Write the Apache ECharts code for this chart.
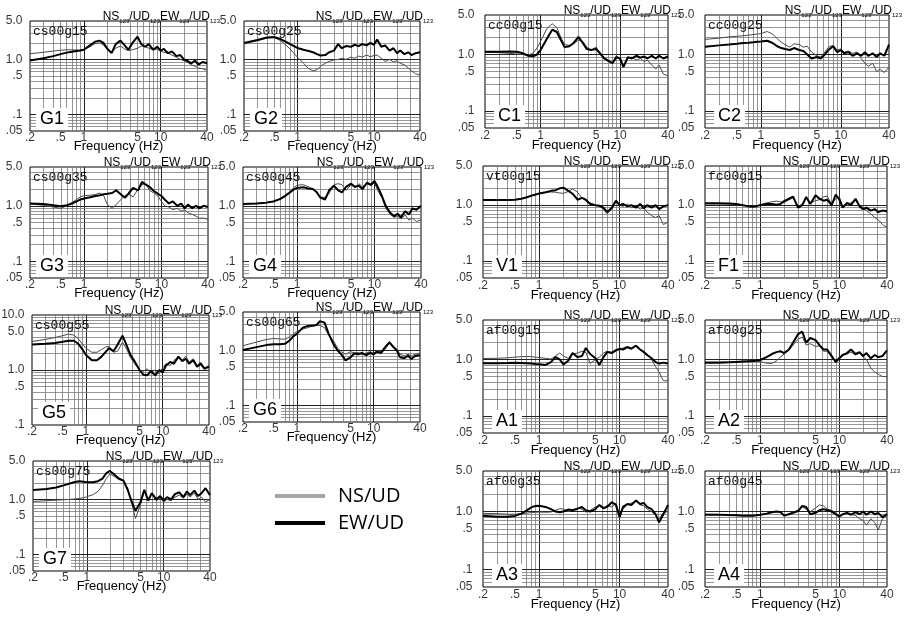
<!DOCTYPE html>
<html><head><meta charset="utf-8">
<script src="https://cdn.jsdelivr.net/npm/echarts@6/dist/echarts.min.js"></script>
<style>html,body{margin:0;padding:0;background:#fff}#c{width:909px;height:617px}</style>
</head><body><div id="c"></div>
<script>
// ---------- data ----------
const FREQ = [0.2,0.3,0.4,0.5,0.6,0.7,0.8,0.9,1.0,1.2,1.4,1.6,1.8,2.0,2.3,2.6,3.0,3.4,3.8,4.3,5.0,5.6,6.3,7.0,8.0,9.0,10,11,12.5,14,16,18,20,22,25,28,31,35,40];
const X_RANGE = [0.2, 40];
const Y_RANGE = [0.05, 5];
const Y_RANGE_G5 = [0.1, 10];
const X_TICKS = [0.2, 0.5, 1, 5, 10, 40];
const X_TICK_LABELS = ['.2', '.5', '1', '5', '10', '40'];
const Y_TICKS = [0.05, 0.1, 0.5, 1, 5];
const Y_TICK_LABELS = ['.05', '.1', '.5', '1.0', '5.0'];
const Y_TICKS_G5 = [0.1, 0.5, 1, 5, 10];
const Y_TICK_LABELS_G5 = ['.1', '.5', '1.0', '5.0', '10.0'];
const X_GRID = [0.3,0.4,0.5,0.6,0.7,0.8,0.9,1,2,3,4,5,6,7,8,9,10,20,30];
const X_GRID_MAJOR = [1, 10];
const Y_GRID = [0.06,0.07,0.08,0.09,0.1,0.2,0.3,0.4,0.5,0.6,0.7,0.8,0.9,1,2,3,4];
const Y_GRID_G5 = [0.2,0.3,0.4,0.5,0.6,0.7,0.8,0.9,1,2,3,4,5,6,7,8,9];
const Y_GRID_MAJOR = [0.1, 1];

const PANEL_IDS = ['G1','G2','G3','G4','G5','G6','G7','C1','C2','V1','F1','A1','A2','A3','A4'];
const STATIONS = ['cs00g15','cs00g25','cs00g35','cs00g45','cs00g55','cs00g65','cs00g75','cc00g15','cc00g25','vt00g15','fc00g15','af00g15','af00g25','af00g35','af00g45'];

const G1_NS = [1.27,1.35,1.42,1.47,1.5,1.5,1.48,1.47,1.5, 1.7,1.95,2.0,1.85,1.55, 1.35,1.6,1.75,1.55,1.45, 1.5,1.6,1.75,1.7,1.6, 1.5,1.55,1.4,1.35,1.3, 1.2,1.1,1.0,0.95,0.9, 0.8,0.75,0.7,0.68,0.63];
const G1_EW = [0.96,1.05,1.15,1.25,1.33,1.38,1.42,1.45,1.5, 1.8,2.1,2.2,2.0,1.6, 1.3,1.9,2.2,1.8,1.5, 2.0,2.6,1.9,1.7,1.9, 1.5,1.7,1.45,1.55,1.3, 1.4,1.15,1.2,1.0,0.95, 0.85,0.95,0.8,0.9,0.85];
const G2_NS = [1.9,2.2,2.45,2.5,2.2,1.85,1.55,1.3,1.1, 0.85,0.68,0.62,0.65,0.75, 0.85,0.92,0.98,1.0,1.05, 1.0,1.1,1.05,1.15,1.1, 1.2,1.12,1.18,1.2,1.05, 0.92,1.0,0.9,0.95,0.85, 0.8,0.7,0.62,0.55,0.52];
const G2_EW = [2.0,2.25,2.5,2.55,2.35,2.1,1.9,1.75,1.62, 1.5,1.42,1.35,1.25,1.18, 1.2,1.35,1.45,1.9,1.6, 1.75,1.7,1.85,1.75,1.9, 1.8,2.0,1.85,2.3,1.7, 1.8,1.45,1.6,1.3,1.45, 1.25,1.35,1.2,1.3,1.35];
const G3_NS = [1.08,1.02,0.95,0.9,1.0,1.15,1.3,1.45,1.52, 1.55,1.6,1.7,1.5,1.05, 0.9,1.05,1.3,1.55,1.6, 1.45,2.0,2.4,2.5,1.9, 1.7,1.5,1.2,1.0,0.95, 0.85,0.9,0.8,0.85,0.75, 0.7,0.65,0.6,0.6,0.57];
const G3_EW = [1.1,1.08,1.02,0.98,1.02,1.1,1.2,1.3,1.35, 1.42,1.5,1.55,1.62,1.65, 1.7,1.9,1.6,1.4,1.7, 2.1,1.9,2.7,2.4,2.2, 1.85,1.65,1.5,1.3,1.1, 1.2,1.0,1.1,0.9,1.05, 0.9,1.0,0.9,1.0,0.95];
const G4_NS = [1.08,1.1,1.15,1.22,1.35,1.55,1.8,2.1,2.35, 2.4,2.2,2.0,1.7,1.45, 1.4,1.7,2.4,2.5,2.4, 1.9,2.4,2.1,2.5,2.2, 2.5,2.3,2.6,1.9,1.4, 0.9,0.7,0.62,0.65,0.58, 0.68,0.55,0.6,0.52,0.56];
const G4_EW = [1.08,1.1,1.14,1.2,1.32,1.5,1.72,1.95,2.1, 2.15,2.05,2.0,1.75,1.4, 1.3,1.9,2.3,1.9,1.75, 2.2,2.5,2.2,2.3,2.0, 2.6,2.4,2.8,2.2,1.5, 1.0,0.75,0.65,0.72,0.62, 0.8,0.7,0.9,0.85,1.0];
const G5_NS = [3.3,3.6,3.9,4.2,4.5,4.3,3.7,3.0,2.5, 2.1,2.1,2.35,2.6,2.7, 2.1,2.2,3.2,2.4,1.7, 1.3,1.0,0.95,1.05,0.9, 1.0,0.85,1.1,1.3,1.2, 1.5,1.7,1.5,1.8,1.4, 1.6,1.2,1.4,1.1,1.2];
const G5_EW = [2.9,3.0,3.1,3.25,3.4,3.4,3.0,2.4,1.9, 1.5,1.5,1.75,2.1,2.5, 2.2,2.9,4.2,2.8,1.9, 1.45,1.0,0.82,0.8,0.95, 0.8,1.0,0.9,1.2,1.4, 1.3,1.75,1.45,1.6,1.3, 1.5,1.15,1.3,1.05,1.15];
const G6_NS = [1.22,1.42,1.58,1.65,1.62,1.6,1.75,2.0,2.2, 2.45,2.6,2.8,2.85,2.85, 2.6,1.9,1.5,1.1,0.95, 0.85,0.95,0.9,0.92,0.85, 0.9,0.95,0.88,1.0,0.95, 1.2,1.45,1.2,1.05,0.85, 0.8,0.85,0.8,0.85,0.9];
const G6_EW = [1.02,1.15,1.25,1.3,1.3,1.32,1.5,1.8,2.0, 2.6,2.8,2.82,2.9,3.4, 3.2,2.0,1.3,1.0,0.85, 0.66,0.75,0.88,0.85,0.9, 0.82,0.9,0.85,0.95,0.9, 1.1,1.4,1.15,1.0,0.75, 0.72,0.8,0.7,0.8,0.82];
const G7_NS = [0.92,0.95,0.97,0.99,1.0,1.02,1.04,1.07,1.12, 1.22,1.4,1.8,2.4,2.9, 2.6,2.3,2.2,1.6,0.9, 0.45,0.8,1.4,1.0,1.3, 0.95,1.05,0.9,1.0,0.95, 1.1,1.2,1.05,1.25,1.1, 1.3,1.0,1.1,0.9,1.0];
const G7_EW = [1.49,1.55,1.65,1.8,1.95,2.08,2.15,2.1,2.05, 2.05,2.15,2.4,3.0,3.3, 2.8,2.4,2.2,1.5,0.95, 0.62,0.9,1.5,0.95,1.3, 1.0,1.15,0.95,1.1,1.0, 1.25,1.35,1.1,1.4,1.2, 1.45,1.15,1.3,1.6,1.2];
const C1_NS = [1.1,1.08,1.05,1.02,1.0,0.98,1.05,1.3,1.7, 2.9,3.5,3.0,2.0,1.5, 1.45,1.55,1.8,1.7,1.35, 1.2,1.35,1.0,0.9,0.8, 0.72,0.95,0.8,0.62,0.85, 0.9,0.8,0.85,0.75,0.8, 0.65,0.55,0.65,0.45,0.42];
const C1_EW = [1.12,1.12,1.13,1.12,1.05,0.95,0.93,1.0,1.2, 1.9,2.75,2.5,1.8,1.35, 1.4,1.6,2.05,1.6,1.25, 1.2,1.25,1.05,0.85,0.78, 0.7,0.9,0.85,0.6,0.9, 0.85,0.95,0.88,0.92,0.85, 0.95,0.85,0.95,0.85,0.92];
const C2_NS = [1.85,1.95,2.05,2.1,2.15,2.2,2.25,2.3,2.35, 2.55,2.3,1.9,1.65,1.5, 1.35,1.55,1.5,1.35,1.4, 1.1,0.95,0.9,1.1,1.35, 1.45,1.2,1.25,1.1,1.15, 1.05,1.1,0.85,0.7,0.62, 0.7,0.5,0.55,0.48,0.6];
const C2_EW = [1.37,1.45,1.5,1.55,1.6,1.62,1.65,1.68,1.7, 1.75,1.6,1.4,1.3,1.25, 1.2,1.3,1.2,1.15,1.0, 0.85,0.9,0.85,1.0,1.2, 1.4,1.1,1.2,1.05,1.1, 0.95,1.05,0.95,1.1,0.95, 1.05,0.9,1.05,0.95,1.5];
const V1_NS = [1.22,1.22,1.23,1.25,1.3,1.37,1.45,1.52,1.58, 1.68,1.72,1.7,1.65,1.62, 1.75,1.95,1.7,1.35,1.2, 1.1,1.0,0.95,0.85,0.7, 0.85,1.15,1.0,0.95,1.05, 0.9,0.95,0.85,0.9,0.75, 0.65,0.6,0.65,0.45,0.5];
const V1_EW = [1.24,1.24,1.24,1.25,1.3,1.38,1.48,1.55,1.62, 1.7,1.8,1.85,2.0,2.05, 1.8,1.6,1.25,1.35,1.25, 1.05,1.0,0.98,0.9,0.75, 0.9,1.2,1.0,1.05,0.95, 1.0,0.9,1.05,0.88,1.0, 0.9,1.0,0.85,0.95,1.0];
const F1_NS = [1.05,1.05,1.05,1.03,1.0,0.96,0.95,0.98,1.02, 1.1,1.15,1.18,1.15,1.1, 1.25,1.35,0.95,1.05,1.35, 1.1,1.2,1.25,1.4,1.45, 1.05,1.3,1.4,0.95,1.05, 1.1,1.2,1.0,0.9,0.8, 0.7,0.6,0.55,0.45,0.4];
const F1_EW = [1.08,1.08,1.07,1.05,1.0,0.96,0.94,0.96,1.0, 1.05,1.05,1.02,1.05,1.18, 1.3,1.42,0.9,1.0,1.4, 1.05,1.5,1.3,1.2,1.25, 1.0,1.55,1.25,0.9,1.1, 1.0,1.3,0.95,0.85,0.9, 0.8,0.85,0.75,0.8,0.78];
const A1_NS = [1.04,1.05,1.07,1.1,1.12,1.13,1.12,1.1,1.08, 1.05,1.02,1.15,1.3,1.15, 1.05,1.25,1.3,1.4,1.35, 0.85,1.0,1.1,1.3,1.4, 1.35,1.5,1.45,1.6,1.7, 1.6,1.8,1.5,1.4,1.25, 1.0,0.75,0.6,0.42,0.42];
const A1_EW = [0.86,0.86,0.87,0.88,0.87,0.86,0.85,0.83,0.82, 0.8,0.9,1.1,1.0,0.82, 0.95,1.3,1.1,1.15,1.6, 1.25,1.05,0.8,1.1,1.35, 1.3,1.45,1.55,1.5,1.65, 1.55,1.75,1.5,1.35,1.2, 1.05,0.9,0.85,0.88,0.85];
const A2_NS = [0.9,0.9,0.9,0.92,0.93,0.95,0.96,0.95,0.92, 0.86,0.85,0.95,1.1,1.25, 1.45,1.8,2.3,2.5,1.8, 1.9,1.7,1.75,1.4,1.4, 1.1,0.95,1.1,1.2,1.25, 1.35,1.2,1.3,1.1,1.0, 0.7,0.6,0.55,0.5,0.5];
const A2_EW = [0.88,0.88,0.89,0.9,0.92,0.93,0.94,0.95,0.98, 1.1,1.25,1.35,1.4,1.3, 1.5,2.0,2.8,3.1,2.0, 2.4,2.2,1.8,1.5,1.5, 1.15,0.9,1.05,1.2,1.3, 1.5,1.25,1.35,1.15,1.3, 1.05,1.2,1.1,1.15,1.45];
const A3_NS = [0.93,0.92,0.9,0.9,0.92,0.94,0.96,0.97,0.98, 0.97,0.98,1.05,1.12,1.1, 1.0,1.05,1.15,1.1,0.98, 1.05,1.2,1.25,1.1,1.3, 1.2,1.4,0.9,1.1,1.3, 1.4,1.5,1.3,1.25,1.1, 1.0,0.85,0.75,0.95,1.0];
const A3_EW = [0.85,0.81,0.81,0.84,0.92,1.05,1.18,1.25,1.26, 1.2,1.1,1.0,0.97,1.0, 1.08,1.05,1.12,1.2,1.05, 1.0,1.1,1.3,1.15,1.2, 1.45,1.3,0.8,1.2,1.35, 1.3,1.55,1.35,1.4,1.2, 1.1,0.9,0.65,0.9,1.3];
const A4_NS = [0.9,0.89,0.88,0.87,0.86,0.86,0.86,0.86,0.87, 0.92,0.98,1.0,0.95,0.85, 0.92,0.98,1.05,1.2,1.1, 1.0,1.15,1.3,1.25,1.1, 1.05,0.95,0.82,0.88,0.95, 0.9,0.85,0.75,0.7,0.58, 0.75,0.65,0.48,0.75,0.85];
const A4_EW = [0.88,0.88,0.87,0.86,0.85,0.85,0.85,0.86,0.88, 0.92,0.97,1.0,0.98,0.85, 0.9,0.95,1.02,1.25,1.2, 0.9,0.95,1.05,1.1,1.05, 1.0,0.9,0.82,0.9,0.95, 0.88,0.98,0.9,1.0,0.88, 1.0,0.9,0.95,0.8,0.9];

const NS_SERIES = [G1_NS,G2_NS,G3_NS,G4_NS,G5_NS,G6_NS,G7_NS,C1_NS,C2_NS,V1_NS,F1_NS,A1_NS,A2_NS,A3_NS,A4_NS];
const EW_SERIES = [G1_EW,G2_EW,G3_EW,G4_EW,G5_EW,G6_EW,G7_EW,C1_EW,C2_EW,V1_EW,F1_EW,A1_EW,A2_EW,A3_EW,A4_EW];

// ---------- layout (pixels: left, top, width, height) ----------
const LAYOUT = [
  [30,21,177,110],[244,21,176,110],
  [30,167,178,111],[243,167,178,111],
  [32,315,177,110],[243,312,177,110],
  [33,461,177,110],
  [485,15,183,113],[705,15,184,113],
  [483,166,185,112],[705,166,182,112],
  [483,320,185,113],[705,320,182,113],
  [483,471,185,116],[705,471,182,116]
];

const FONT = '"Liberation Sans", Arial, sans-serif';
const grids = [], xAxes = [], yAxes = [], series = [], titles = [];

LAYOUT.forEach((L, i) => {
  const [l, t, w, h] = L;
  const right = l > 450;
  const isG5 = PANEL_IDS[i] === 'G5';
  const yr = isG5 ? Y_RANGE_G5 : Y_RANGE;
  const yGrid = isG5 ? Y_GRID_G5 : Y_GRID;
  const yTicks = isG5 ? Y_TICKS_G5 : Y_TICKS;
  const yTickLabels = isG5 ? Y_TICK_LABELS_G5 : Y_TICK_LABELS;

  grids.push({left: l, top: t, width: w, height: h, show: true, borderColor: '#000', borderWidth: 1,
    backgroundColor: '#fff', containLabel: false, outerBoundsMode: 'none'});
  xAxes.push({gridIndex: i, type: 'log', logBase: 10, min: X_RANGE[0], max: X_RANGE[1],
    axisLine: {show: false}, axisTick: {show: false}, axisLabel: {show: false}, splitLine: {show: false},
    name: 'Frequency (Hz)', nameLocation: 'middle', nameGap: right ? 11 : 9,
    nameTextStyle: {fontSize: 13, color: '#000', fontFamily: FONT}});
  yAxes.push({gridIndex: i, type: 'log', logBase: 10, min: yr[0], max: yr[1],
    axisLine: {show: false}, axisTick: {show: false}, axisLabel: {show: false}, splitLine: {show: false}});

  const gl = [];
  X_GRID.forEach(v => gl.push(X_GRID_MAJOR.includes(v)
    ? {xAxis: v, lineStyle: {color: '#222', width: 1, type: 'solid'}} : {xAxis: v}));
  yGrid.forEach(v => gl.push(Y_GRID_MAJOR.includes(v)
    ? {yAxis: v, lineStyle: {color: '#222', width: 1, type: 'solid'}} : {yAxis: v}));
  series.push({type: 'line', xAxisIndex: i, yAxisIndex: i, data: [[1, yr[0]]], symbol: 'none',
    lineStyle: {width: 0}, silent: true, z: 1,
    markLine: {silent: true, symbol: ['none', 'none'], label: {show: false}, animation: false,
      lineStyle: {color: '#7a7a7a', width: 0.8, type: 'solid'}, emphasis: {disabled: true}, data: gl}});

  series.push({name: 'NS/UD', type: 'line', xAxisIndex: i, yAxisIndex: i, z: 10,
    data: FREQ.map((f, k) => [f, NS_SERIES[i][k]]), symbol: 'none', silent: true,
    lineStyle: {color: '#4a4a4a', width: 1}, itemStyle: {color: '#4a4a4a'}});
  series.push({name: 'EW/UD', type: 'line', xAxisIndex: i, yAxisIndex: i, z: 11,
    data: FREQ.map((f, k) => [f, EW_SERIES[i][k]]), symbol: 'none', silent: true,
    lineStyle: {color: '#000', width: 2}, itemStyle: {color: '#000'}});

  series.push({type: 'scatter', xAxisIndex: i, yAxisIndex: i, symbolSize: 1, silent: true, clip: false, z: 12,
    itemStyle: {color: 'rgba(0,0,0,0)'},
    data: X_TICKS.map((v, k) => ({name: X_TICK_LABELS[k], value: [v, yr[0]]})),
    label: {show: true, position: 'bottom', distance: right ? 1 : 0, formatter: '{b}',
      color: '#000', fontSize: 12, fontFamily: FONT}});
  series.push({type: 'scatter', xAxisIndex: i, yAxisIndex: i, symbolSize: 1, silent: true, clip: false, z: 12,
    itemStyle: {color: 'rgba(0,0,0,0)'},
    data: yTicks.map((v, k) => ({name: yTickLabels[k], value: [X_RANGE[0], v]})),
    label: {show: true, position: 'left', distance: right ? 10 : 7, formatter: '{b}',
      color: '#000', fontSize: 12, fontFamily: FONT}});

  titles.push({
    text: '{a|NS}{s|123}{a|/UD}{s|123}{a|EW}{s|123}{a|/UD}{s|123}',
    right: Math.max(4, 909 - (l + w + 13)), top: t - 11, padding: 0,
    textStyle: {rich: {
      a: {fontSize: 12, fontFamily: FONT, color: '#000', fontWeight: 'normal', lineHeight: 14},
      s: {fontSize: 6, fontFamily: FONT, color: '#000', fontWeight: 'normal', lineHeight: 14, verticalAlign: 'bottom'}
    }}
  });
  titles.push({text: STATIONS[i], left: l + 3, top: t + 4, padding: 0,
    textStyle: {fontFamily: '"Liberation Mono", "DejaVu Sans Mono", monospace', fontSize: 13, fontWeight: 'normal', color: '#111'}});
  titles.push({text: PANEL_IDS[i], left: l + (right ? 9 : 6), top: t + h - 23, padding: [2, 4],
    backgroundColor: '#fff',
    textStyle: {fontFamily: FONT, fontSize: 18, fontWeight: 'normal', color: '#000'}});
});

const chart = echarts.init(document.getElementById('c'), null, {renderer: 'canvas'});
chart.setOption({
  animation: false,
  backgroundColor: '#fff',
  title: titles,
  legend: {
    left: 275, top: 486, orient: 'vertical', itemWidth: 50, itemHeight: 4, itemGap: 7, padding: 0,
    selectedMode: false,
    textStyle: {fontSize: 20, fontFamily: '"Open Sans", sans-serif', color: '#000', padding: [0, 0, 0, 8]},
    data: [
      {name: 'NS/UD', icon: 'rect', itemStyle: {color: '#a8a8a8'}},
      {name: 'EW/UD', icon: 'rect', itemStyle: {color: '#000'}}
    ]
  },
  grid: grids,
  xAxis: xAxes,
  yAxis: yAxes,
  series: series
});
</script>
</body></html>
